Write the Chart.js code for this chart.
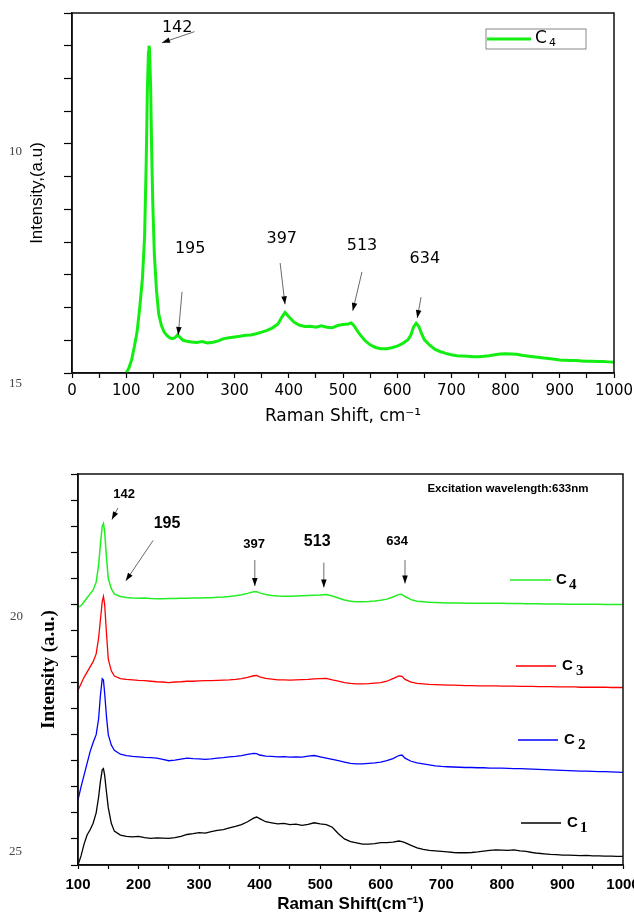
<!DOCTYPE html>
<html>
<head>
<meta charset="utf-8">
<script src="https://cdn.jsdelivr.net/npm/chart.js@4.4.0/dist/chart.umd.min.js"></script>
<style>
  body { margin: 0; background: #fff; }
  #wrap { position: relative; width: 634px; height: 919px; }
  canvas { position: absolute; left: 0; }
  #top { top: 0; }
  #bottom { top: 440px; }
</style>
</head>
<body>
<div id="wrap">
  <canvas id="top" width="634" height="440"></canvas>
  <canvas id="bottom" width="634" height="479"></canvas>
</div>
<script>
// ---- top panel: C4 spectrum ----
var shiftTop = [100,105,110,115,120,125,130,134,137,139,141,142,143,145,147,149,152,156,160,165,
  170,175,180,185,190,195,200,205,210,220,
  230,240,250,260,270,280,290,300,310,320,
  330,340,350,360,370,380,387,393,400,410,
  420,430,440,450,460,470,480,490,500,510,
  515,520,530,540,550,560,570,580,590,600,
  610,620,625,630,635,640,645,650,660,670,
  680,690,700,710,720,730,740,750,760,770,
  780,790,800,810,820,830,840,850,860,870,
  880,890,900,910,920,930,940,950,960,970,
  980,990,1000];
var c4Top = [0,0.15,0.4,0.8,1.25,2.0,2.9,4.2,6.5,8.6,9.8,10.0,9.9,8.8,6.8,5.2,3.6,2.5,1.8,1.45,
  1.25,1.15,1.08,1.05,1.08,1.17,1.08,1.0,0.98,0.95,
  0.93,0.96,0.92,0.94,0.98,1.05,1.08,1.1,1.12,1.15,
  1.16,1.2,1.25,1.3,1.38,1.5,1.7,1.85,1.72,1.55,
  1.46,1.42,1.43,1.4,1.44,1.4,1.38,1.45,1.48,1.5,
  1.53,1.45,1.2,1.0,0.86,0.78,0.74,0.74,0.77,0.82,
  0.9,1.02,1.15,1.4,1.52,1.42,1.2,1.02,0.85,0.72,
  0.65,0.6,0.56,0.53,0.52,0.51,0.5,0.5,0.51,0.53,
  0.56,0.58,0.59,0.58,0.57,0.54,0.52,0.5,0.48,0.46,
  0.44,0.42,0.4,0.39,0.38,0.38,0.37,0.36,0.36,0.35,
  0.35,0.34,0.33];

// ---- bottom panel: C1..C4 stacked ----
var shiftBot = [100,105,110,115,120,125,130,134,137,140,142,144,147,150,155,160,
  170,180,190,200,210,220,230,240,250,260,270,
  280,290,300,310,320,330,340,350,360,370,380,
  390,395,400,
  410,420,430,440,450,460,470,480,490,500,510,
  520,530,540,550,560,570,580,590,600,610,620,
  630,635,640,
  650,660,670,680,690,700,710,720,730,740,750,760,
  770,780,790,800,810,820,830,840,850,860,870,880,
  890,900,910,920,930,940,950,960,970,980,990,1000];
var c1 = [0,0.35,0.8,1.15,1.35,1.6,2.0,2.6,3.2,3.65,3.7,3.45,2.8,2.2,1.6,1.3,
  1.15,1.1,1.08,1.1,1.05,1.02,1.04,1.03,1.02,1.05,1.1,
  1.17,1.2,1.24,1.22,1.28,1.33,1.36,1.42,1.48,1.55,1.66,
  1.8,1.84,1.78,
  1.66,1.62,1.58,1.6,1.55,1.57,1.52,1.56,1.62,1.58,1.55,
  1.45,1.2,1.0,0.9,0.85,0.8,0.8,0.82,0.86,0.86,0.88,
  0.92,0.9,0.86,
  0.75,0.66,0.6,0.56,0.54,0.52,0.5,0.48,0.47,0.47,0.48,0.5,
  0.53,0.56,0.58,0.57,0.56,0.58,0.54,0.52,0.48,0.45,0.43,0.41,
  0.4,0.38,0.38,0.37,0.36,0.37,0.35,0.35,0.34,0.34,0.33,0.33];
var c2 = [2.5,3.0,3.45,3.9,4.35,4.7,5.0,5.6,6.5,7.15,7.1,6.6,5.7,5.0,4.6,4.4,
  4.25,4.2,4.17,4.15,4.13,4.12,4.1,4.05,4.0,4.02,4.06,
  4.1,4.08,4.07,4.05,4.07,4.1,4.12,4.15,4.17,4.2,4.24,
  4.28,4.27,4.22,
  4.18,4.17,4.15,4.16,4.14,4.15,4.14,4.18,4.2,4.15,4.1,
  4.05,4.0,3.95,3.9,3.88,3.88,3.9,3.92,3.95,4.0,4.08,
  4.2,4.22,4.1,
  3.98,3.92,3.88,3.84,3.8,3.78,3.77,3.76,3.75,3.74,3.74,3.73,
  3.73,3.72,3.72,3.72,3.71,3.7,3.7,3.69,3.68,3.67,3.66,3.65,
  3.64,3.63,3.62,3.61,3.6,3.6,3.59,3.58,3.58,3.57,3.56,3.55];
var c3 = [6.7,6.95,7.2,7.4,7.6,7.8,8.1,8.7,9.4,10.1,10.3,10.0,8.9,7.9,7.45,7.25,
  7.15,7.12,7.1,7.08,7.07,7.05,7.03,7.02,7.0,7.02,7.03,
  7.05,7.05,7.06,7.07,7.07,7.08,7.09,7.1,7.12,7.15,7.2,
  7.26,7.27,7.22,
  7.16,7.13,7.1,7.1,7.09,7.1,7.11,7.12,7.14,7.15,7.16,
  7.1,7.05,7.0,6.97,6.95,6.95,6.96,6.98,7.0,7.05,7.15,
  7.25,7.24,7.12,
  7.02,6.97,6.95,6.93,6.92,6.91,6.9,6.9,6.89,6.88,6.88,6.87,
  6.87,6.87,6.87,6.86,6.86,6.86,6.85,6.85,6.85,6.84,6.84,6.84,
  6.83,6.83,6.83,6.83,6.82,6.82,6.82,6.82,6.82,6.81,6.81,6.81];
var c4 = [9.88,9.95,10.1,10.25,10.4,10.55,10.85,11.5,12.3,13.0,13.1,12.8,11.8,11.0,10.6,10.4,
  10.3,10.26,10.24,10.23,10.24,10.22,10.21,10.21,10.22,10.22,10.23,
  10.23,10.24,10.24,10.25,10.25,10.27,10.28,10.3,10.33,10.37,10.42,
  10.48,10.48,10.44,
  10.38,10.34,10.32,10.31,10.31,10.32,10.33,10.34,10.35,10.36,10.38,
  10.32,10.24,10.17,10.12,10.1,10.1,10.11,10.13,10.16,10.2,10.28,
  10.38,10.38,10.3,
  10.18,10.12,10.1,10.08,10.07,10.06,10.05,10.05,10.05,10.04,10.04,10.04,
  10.04,10.04,10.04,10.04,10.03,10.03,10.03,10.02,10.02,10.02,10.01,10.01,
  10.01,10.01,10.0,10.0,10.0,10.0,10.0,10.0,9.99,9.99,9.99,9.99];

var peakLabels = ['142', '195', '397', '513', '634'];

function pts(xs, ys) {
  return xs.map(function (x, i) { return { x: x, y: ys[i] }; });
}

function arrow(ctx, x1, y1, x2, y2) {
  var a = Math.atan2(y2 - y1, x2 - x1);
  ctx.beginPath(); ctx.moveTo(x1, y1); ctx.lineTo(x2, y2); ctx.stroke();
  ctx.beginPath();
  ctx.moveTo(x2, y2);
  ctx.lineTo(x2 - 8 * Math.cos(a) + 2.8 * Math.sin(a), y2 - 8 * Math.sin(a) - 2.8 * Math.cos(a));
  ctx.lineTo(x2 - 8 * Math.cos(a) - 2.8 * Math.sin(a), y2 - 8 * Math.sin(a) + 2.8 * Math.cos(a));
  ctx.closePath(); ctx.fill();
}

// frame, peak notes, legend entries and stray labels
var extras = {
  id: 'extras',
  afterDraw: function (chart, args, o) {
    var ctx = chart.ctx, a = chart.chartArea, xs = chart.scales.x, ys = chart.scales.y;
    ctx.save();
    ctx.strokeStyle = '#111'; ctx.lineWidth = 1.5;
    ctx.strokeRect(a.left, a.top, a.right - a.left, a.bottom - a.top);

    ctx.fillStyle = '#000'; ctx.textAlign = 'center'; ctx.textBaseline = 'middle';
    (o.notes || []).forEach(function (n) {
      ctx.font = n.font;
      ctx.fillText(n.text, xs.getPixelForValue(n.at[0]), ys.getPixelForValue(n.at[1]));
      if (n.from) {
        ctx.strokeStyle = '#444'; ctx.lineWidth = 0.8; ctx.fillStyle = '#000';
        arrow(ctx, xs.getPixelForValue(n.from[0]), ys.getPixelForValue(n.from[1]),
                   xs.getPixelForValue(n.to[0]), ys.getPixelForValue(n.to[1]));
      }
    });

    if (o.box) {
      ctx.strokeStyle = '#888'; ctx.lineWidth = 1;
      ctx.strokeRect(o.box[0], o.box[1], o.box[2], o.box[3]);
    }
    ctx.textAlign = 'left';
    (o.keys || []).forEach(function (k) {
      ctx.strokeStyle = k.color; ctx.lineWidth = k.width;
      ctx.beginPath(); ctx.moveTo(k.x1, k.y); ctx.lineTo(k.x2, k.y); ctx.stroke();
      ctx.fillStyle = '#000';
      ctx.font = k.font; ctx.fillText('C', k.cx, k.y);
      ctx.font = k.subFont; ctx.fillText(k.sub, k.sx, k.y + k.dy);
    });

    ctx.fillStyle = '#444';
    (o.stray || []).forEach(function (s) {
      ctx.font = '13px "Liberation Serif", serif';
      ctx.fillText(s[0], s[1], s[2]);
    });
    ctx.restore();
  }
};

Chart.defaults.font.family = '"Liberation Sans", Arial, sans-serif';
Chart.defaults.color = '#000';

function xTicks(v) { return v % 100 === 0 ? String(v) : ''; }

new Chart(document.getElementById('top').getContext('2d'), {
  type: 'line',
  data: {
    datasets: [{
      label: 'C4',
      data: pts(shiftTop, c4Top),
      borderColor: '#12ee12',
      borderWidth: 3,
      pointRadius: 0,
      tension: 0
    }]
  },
  options: {
    responsive: false,
    animation: false,
    layout: { padding: { left: 0, top: 13, right: 20, bottom: 0 } },
    plugins: {
      legend: { display: false },
      tooltip: { enabled: false },
      extras: {
        notes: [
          { text: peakLabels[0], font: '16px "DejaVu Sans"', at: [194, 10.55], from: [226, 10.43], to: [166, 10.09] },
          { text: peakLabels[1], font: '16px "DejaVu Sans"', at: [218, 3.79], from: [203, 2.48], to: [196, 1.16] },
          { text: peakLabels[2], font: '16px "DejaVu Sans"', at: [387, 4.1], from: [384, 3.36], to: [393, 2.1] },
          { text: peakLabels[3], font: '16px "DejaVu Sans"', at: [535, 3.88], from: [535, 3.09], to: [518, 1.9] },
          { text: peakLabels[4], font: '16px "DejaVu Sans"', at: [651, 3.49], from: [644, 2.32], to: [637, 1.68] }
        ],
        box: [486, 29, 100, 20],
        keys: [
          { color: '#12ee12', width: 3, x1: 487, x2: 531, y: 39, cx: 535, font: '17px "DejaVu Sans"', sub: '4', sx: 549, dy: 4, subFont: '11px "DejaVu Sans"' }
        ],
        stray: [['10', 9, 152], ['15', 9, 384]]
      }
    },
    scales: {
      x: {
        type: 'linear', min: 0, max: 1000,
        grid: { drawOnChartArea: false, tickLength: 5, tickColor: '#000', tickWidth: 1.2 },
        border: { color: '#000', width: 1.5 },
        ticks: { stepSize: 50, autoSkip: false, maxRotation: 0, padding: 4, font: { family: '"DejaVu Sans"', size: 15 }, callback: xTicks },
        title: { display: true, text: 'Raman Shift, cm\u207B\u00B9', font: { family: '"DejaVu Sans"', size: 17 }, padding: { top: 0, bottom: 13 } },
        afterFit: function (s) { s.height = 67; s.paddingLeft = 0; s.paddingRight = 0; }
      },
      y: {
        min: 0, max: 11,
        grid: { drawOnChartArea: false, tickLength: 8, tickColor: '#000', tickWidth: 1.2 },
        border: { color: '#000', width: 1.5 },
        ticks: { stepSize: 1, callback: function () { return ''; } },
        title: { display: true, text: 'Intensity,(a.u)', font: { size: 17 }, padding: { top: 27, bottom: 0 } },
        afterFit: function (s) { s.width = 72; s.paddingTop = 0; s.paddingBottom = 0; }
      }
    }
  },
  plugins: [extras]
});

var boldNote = 'bold 13px "Liberation Sans"';
var bigNote = 'bold 16px "Liberation Sans"';
var keyFont = 'bold 15px "Liberation Sans"';
var subFont = 'bold 15px "Liberation Serif"';

new Chart(document.getElementById('bottom').getContext('2d'), {
  type: 'line',
  data: {
    datasets: [
      { label: 'C1', data: pts(shiftBot, c1), borderColor: '#000000', borderWidth: 1.3, pointRadius: 0, tension: 0 },
      { label: 'C2', data: pts(shiftBot, c2), borderColor: '#0000ff', borderWidth: 1.3, pointRadius: 0, tension: 0 },
      { label: 'C3', data: pts(shiftBot, c3), borderColor: '#ff0000', borderWidth: 1.3, pointRadius: 0, tension: 0 },
      { label: 'C4', data: pts(shiftBot, c4), borderColor: '#22ee22', borderWidth: 1.5, pointRadius: 0, tension: 0 }
    ]
  },
  options: {
    responsive: false,
    animation: false,
    layout: { padding: { left: 0, top: 34, right: 11, bottom: 0 } },
    plugins: {
      legend: { display: false },
      tooltip: { enabled: false },
      extras: {
        notes: [
          { text: peakLabels[0], font: boldNote, at: [176, 14.2], from: [166, 13.7], to: [156, 13.25] },
          { text: peakLabels[1], font: bigNote, at: [247, 13.1], from: [224, 12.45], to: [179, 10.9] },
          { text: peakLabels[2], font: boldNote, at: [391, 12.3], from: [392, 11.7], to: [392, 10.7] },
          { text: peakLabels[3], font: bigNote, at: [495, 12.4], from: [506, 11.6], to: [506, 10.65] },
          { text: peakLabels[4], font: boldNote, at: [627, 12.4], from: [640, 11.7], to: [640, 10.8] },
          { text: 'Excitation wavelength:633nm', font: 'bold 11.5px "Liberation Sans"', at: [810, 14.44] }
        ],
        keys: [
          { color: '#22ee22', width: 1.5, x1: 510, x2: 551, y: 140, cx: 556, font: keyFont, sub: '4', sx: 569, dy: 5, subFont: subFont },
          { color: '#ff0000', width: 1.3, x1: 516, x2: 556, y: 226, cx: 562, font: keyFont, sub: '3', sx: 576, dy: 5, subFont: subFont },
          { color: '#0000ff', width: 1.3, x1: 518, x2: 558, y: 300, cx: 564, font: keyFont, sub: '2', sx: 578, dy: 5, subFont: subFont },
          { color: '#000000', width: 1.3, x1: 521, x2: 561, y: 383, cx: 567, font: keyFont, sub: '1', sx: 580, dy: 5, subFont: subFont }
        ],
        stray: [['20', 10, 177], ['25', 9, 412]]
      }
    },
    scales: {
      x: {
        type: 'linear', min: 100, max: 1000,
        grid: { drawOnChartArea: false, tickLength: 4, tickColor: '#000', tickWidth: 1.2 },
        border: { color: '#000', width: 1.5 },
        ticks: { stepSize: 50, autoSkip: false, maxRotation: 0, padding: 7, font: { size: 15, weight: 'bold' }, callback: xTicks },
        title: { display: true, text: 'Raman Shift(cm\u207B\u00B9)', font: { size: 17, weight: 'bold' }, padding: { top: 0, bottom: 4 } },
        afterFit: function (s) { s.height = 54; s.paddingLeft = 0; s.paddingRight = 0; }
      },
      y: {
        min: 0, max: 15,
        grid: { drawOnChartArea: false, tickLength: 7, tickColor: '#000', tickWidth: 1.2 },
        border: { color: '#000', width: 1.5 },
        ticks: { stepSize: 1, callback: function () { return ''; } },
        title: { display: true, text: 'Intensity (a.u.)', font: { family: '"Liberation Serif", serif', size: 19, weight: 'bold' }, padding: { top: 38, bottom: 0 } },
        afterFit: function (s) { s.width = 78; s.paddingTop = 0; s.paddingBottom = 0; }
      }
    }
  },
  plugins: [extras]
});
</script>
</body>
</html>
